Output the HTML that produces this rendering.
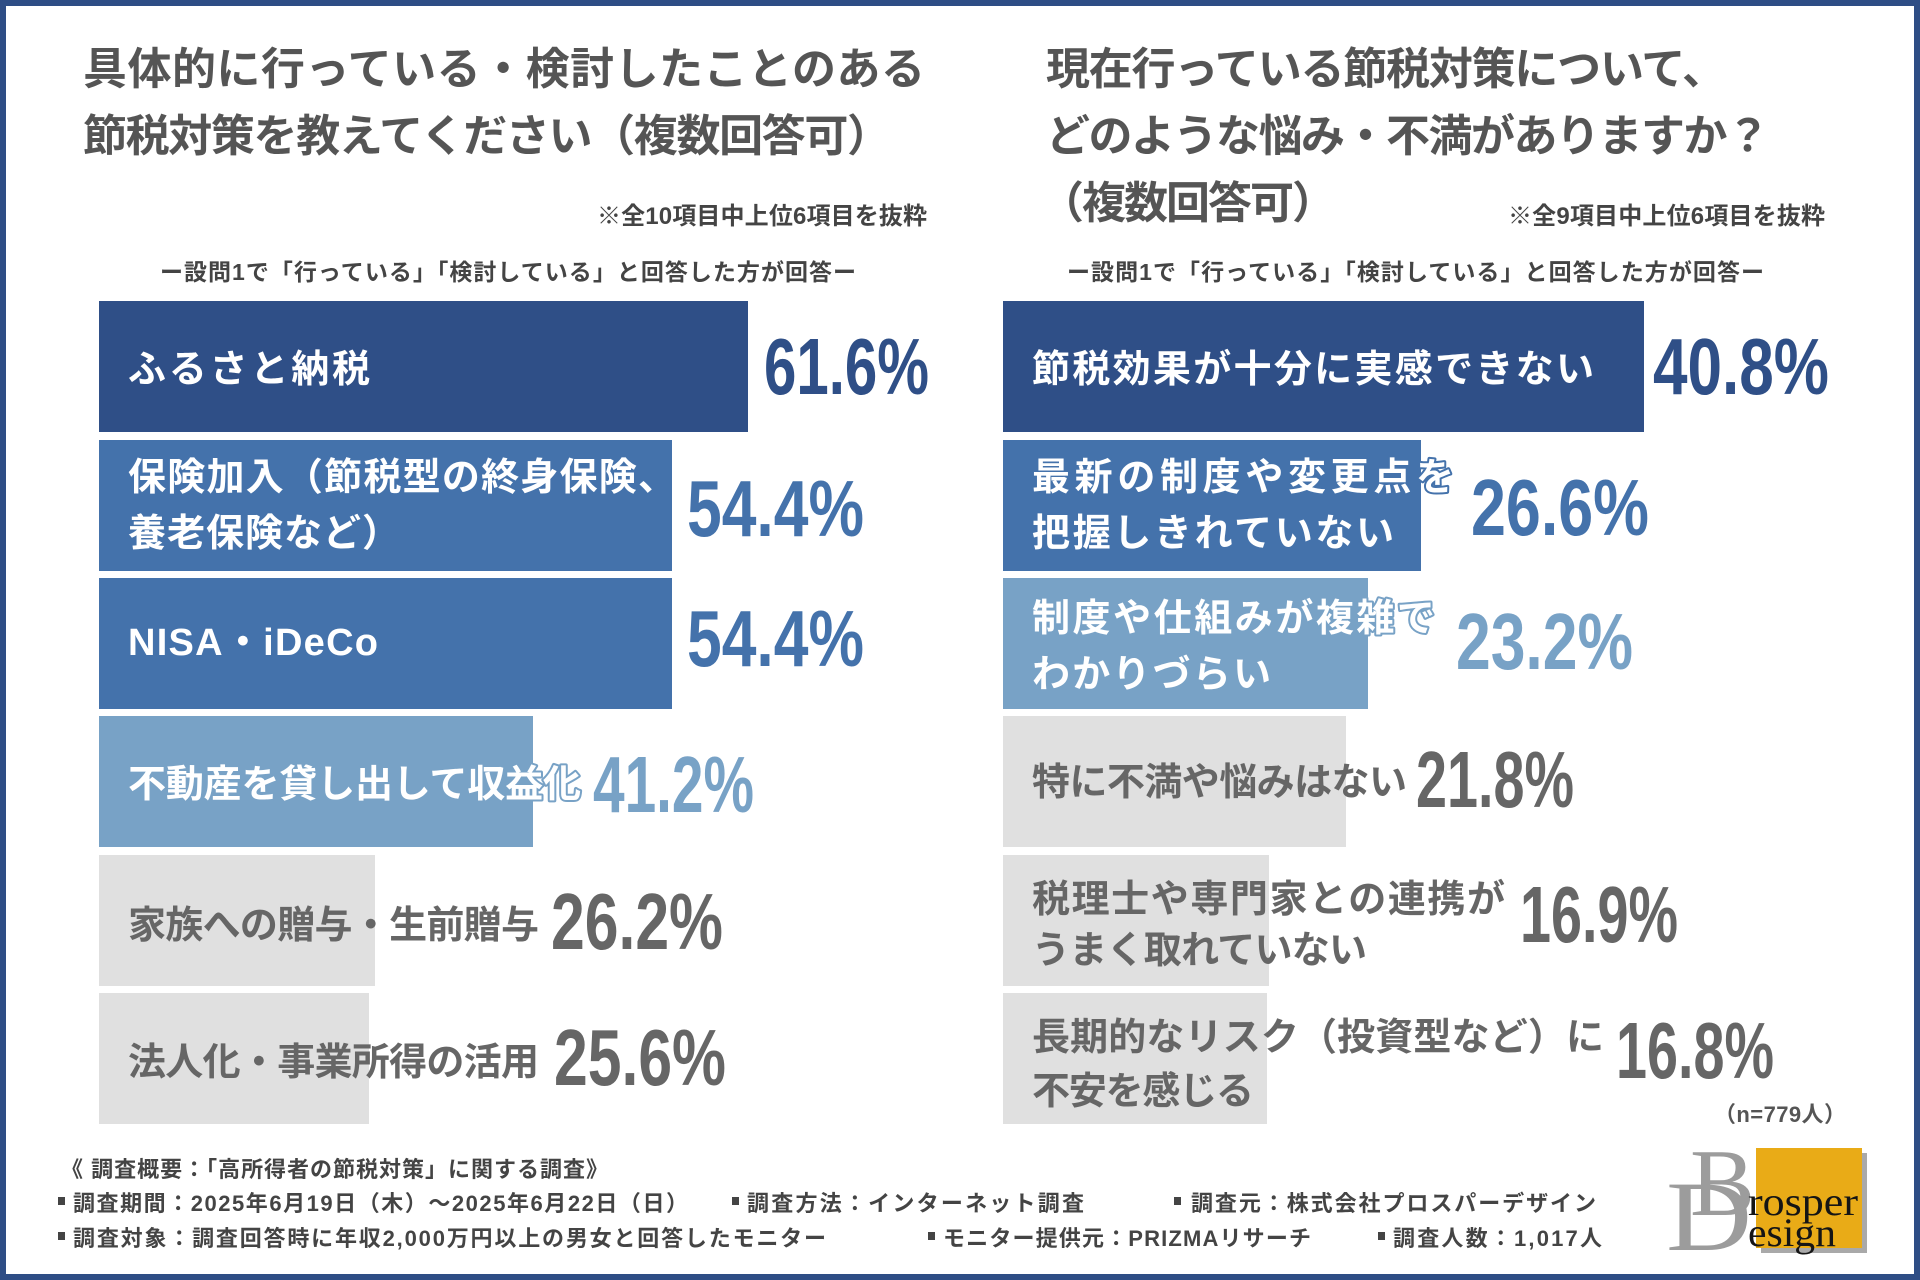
<!DOCTYPE html>
<html lang="ja">
<head>
<meta charset="utf-8">
<style>
  html,body{margin:0;padding:0;background:#fff;}
  svg{display:block;}
  .jp{font-family:"Liberation Sans","Noto Sans CJK JP",sans-serif;font-weight:700;}
  .num{font-family:"Liberation Sans",sans-serif;font-weight:700;}
  .serif{font-family:"Liberation Serif",serif;}
</style>
</head>
<body>
<svg width="1920" height="1280" viewBox="0 0 1920 1280" xmlns="http://www.w3.org/2000/svg">
  <!-- frame -->
  <rect x="0" y="0" width="1920" height="1280" fill="#2e4d85"/>
  <rect x="6" y="6" width="1908" height="1268" fill="#ffffff"/>

  <!-- ===== LEFT TITLES ===== -->
  <g class="jp" fill="#555555" font-size="44">
    <text x="83" y="84" textLength="842">具体的に行っている・検討したことのある</text>
    <text x="83" y="151" textLength="808">節税対策を教えてください（複数回答可）</text>
  </g>
  <g class="jp" fill="#444444">
    <text x="597" y="224" font-size="24" textLength="330">※全10項目中上位6項目を抜粋</text>
    <text x="160" y="280" font-size="23" textLength="696">ー設問1で「行っている」「検討している」と回答した方が回答ー</text>
  </g>

  <!-- ===== RIGHT TITLES ===== -->
  <g class="jp" fill="#555555" font-size="44">
    <text x="1046" y="84" textLength="680">現在行っている節税対策について、</text>
    <text x="1046" y="151" textLength="724">どのような悩み・不満がありますか？</text>
    <text x="1040" y="218" textLength="296">（複数回答可）</text>
  </g>
  <g class="jp" fill="#444444">
    <text x="1508" y="224" font-size="24" textLength="317">※全9項目中上位6項目を抜粋</text>
    <text x="1067" y="280" font-size="23" textLength="697">ー設問1で「行っている」「検討している」と回答した方が回答ー</text>
  </g>

  <!-- ===== LEFT BARS ===== -->
  <rect x="99" y="301" width="649" height="131" fill="#2f4f87"/>
  <rect x="99" y="440" width="573" height="131" fill="#4472ab"/>
  <rect x="99" y="578" width="573" height="131" fill="#4472ab"/>
  <rect x="99" y="716" width="434" height="131" fill="#78a2c6"/>
  <rect x="99" y="855" width="276" height="131" fill="#e0e0e0"/>
  <rect x="99" y="993" width="270" height="131" fill="#e0e0e0"/>

  <g class="jp" font-size="38" fill="#ffffff" stroke-linejoin="round" style="paint-order:stroke">
    <text x="128" y="382" textLength="242">ふるさと納税</text>
    <text x="128" y="490" textLength="548">保険加入（節税型の終身保険、</text>
    <text x="128" y="546" textLength="272">養老保険など）</text>
    <text x="128" y="655" textLength="250">NISA・iDeCo</text>
    <text x="128" y="797" textLength="453" stroke="#78a2c6" stroke-width="4">不動産を貸し出して収益化</text>
  </g>
  <g class="jp" font-size="38" fill="#666666">
    <text x="128" y="938" textLength="411">家族への贈与・生前贈与</text>
    <text x="128" y="1075" textLength="411">法人化・事業所得の活用</text>
  </g>

  <g class="num" font-size="80">
    <text x="764" y="394" fill="#2f4f87" textLength="165" lengthAdjust="spacingAndGlyphs">61.6%</text>
    <text x="687" y="536" fill="#4472ab" textLength="177" lengthAdjust="spacingAndGlyphs">54.4%</text>
    <text x="687" y="666" fill="#4472ab" textLength="177" lengthAdjust="spacingAndGlyphs">54.4%</text>
    <text x="593" y="812" fill="#78a2c6" textLength="161" lengthAdjust="spacingAndGlyphs">41.2%</text>
    <text x="551" y="949" fill="#666666" textLength="172" lengthAdjust="spacingAndGlyphs">26.2%</text>
    <text x="554" y="1085" fill="#666666" textLength="172" lengthAdjust="spacingAndGlyphs">25.6%</text>
  </g>

  <!-- ===== RIGHT BARS ===== -->
  <rect x="1003" y="301" width="641" height="131" fill="#2f4f87"/>
  <rect x="1003" y="440" width="418" height="131" fill="#4472ab"/>
  <rect x="1003" y="578" width="365" height="131" fill="#78a2c6"/>
  <rect x="1003" y="716" width="343" height="131" fill="#e0e0e0"/>
  <rect x="1003" y="855" width="266" height="131" fill="#e0e0e0"/>
  <rect x="1003" y="993" width="264" height="131" fill="#e0e0e0"/>

  <g class="jp" font-size="38" fill="#ffffff" stroke-linejoin="round" style="paint-order:stroke">
    <text x="1032" y="382" textLength="562">節税効果が十分に実感できない</text>
    <text x="1032" y="490" textLength="422" stroke="#4472ab" stroke-width="4">最新の制度や変更点を</text>
    <text x="1032" y="546" textLength="362">把握しきれていない</text>
    <text x="1032" y="631" textLength="403" stroke="#78a2c6" stroke-width="4">制度や仕組みが複雑で</text>
    <text x="1032" y="687" textLength="239">わかりづらい</text>
  </g>
  <g class="jp" font-size="38" fill="#666666">
    <text x="1032" y="795" textLength="375">特に不満や悩みはない</text>
    <text x="1032" y="912" textLength="473">税理士や専門家との連携が</text>
    <text x="1032" y="963" textLength="335">うまく取れていない</text>
    <text x="1032" y="1050" textLength="572">長期的なリスク（投資型など）に</text>
    <text x="1032" y="1104" textLength="222">不安を感じる</text>
  </g>

  <g class="num" font-size="80">
    <text x="1653" y="394" fill="#2f4f87" textLength="176" lengthAdjust="spacingAndGlyphs">40.8%</text>
    <text x="1471" y="535" fill="#4472ab" textLength="178" lengthAdjust="spacingAndGlyphs">26.6%</text>
    <text x="1456" y="669" fill="#78a2c6" textLength="177" lengthAdjust="spacingAndGlyphs">23.2%</text>
    <text x="1416" y="807" fill="#666666" textLength="158" lengthAdjust="spacingAndGlyphs">21.8%</text>
    <text x="1520" y="942" fill="#666666" textLength="158" lengthAdjust="spacingAndGlyphs">16.9%</text>
    <text x="1616" y="1078" fill="#666666" textLength="158" lengthAdjust="spacingAndGlyphs">16.8%</text>
  </g>

  <text class="jp" x="1714" y="1122" font-size="22" fill="#555555" textLength="132">（n=779人）</text>

  <!-- ===== FOOTER ===== -->
  <g class="jp" font-size="22" fill="#444444">
    <text x="61" y="1177" textLength="547">《 調査概要：「高所得者の節税対策」に関する調査》</text>

    <rect x="58" y="1197" width="7" height="8" fill="#444444"/>
    <text x="73" y="1211" textLength="615">調査期間：2025年6月19日（木）～2025年6月22日（日）</text>
    <rect x="732" y="1197" width="7" height="8" fill="#444444"/>
    <text x="747" y="1211" textLength="337">調査方法：インターネット調査</text>
    <rect x="1174" y="1197" width="7" height="8" fill="#444444"/>
    <text x="1191" y="1211" textLength="405">調査元：株式会社プロスパーデザイン</text>

    <rect x="58" y="1232" width="7" height="8" fill="#444444"/>
    <text x="73" y="1246" textLength="753">調査対象：調査回答時に年収2,000万円以上の男女と回答したモニター</text>
    <rect x="928" y="1232" width="7" height="8" fill="#444444"/>
    <text x="943" y="1246" textLength="368">モニター提供元：PRIZMAリサーチ</text>
    <rect x="1378" y="1232" width="7" height="8" fill="#444444"/>
    <text x="1393" y="1246" textLength="209">調査人数：1,017人</text>
  </g>

  <!-- ===== LOGO ===== -->
  <rect x="1761" y="1153" width="106" height="100" fill="#a9a9a9"/>
  <rect x="1756" y="1148" width="106" height="100" fill="#e9ab17"/>
  <text class="serif" x="1666" y="1250" font-size="100" fill="#9c9c9c" textLength="86" lengthAdjust="spacingAndGlyphs">D</text>
  <text class="serif" x="1690" y="1215" font-size="95" fill="#9c9c9c" textLength="65" lengthAdjust="spacingAndGlyphs">B</text>
  <text class="serif" x="1748" y="1215" font-size="40" fill="#151515" textLength="110" lengthAdjust="spacingAndGlyphs">rosper</text>
  <text class="serif" x="1748" y="1246" font-size="40" fill="#151515" textLength="88" lengthAdjust="spacingAndGlyphs">esign</text>
</svg>
</body>
</html>
